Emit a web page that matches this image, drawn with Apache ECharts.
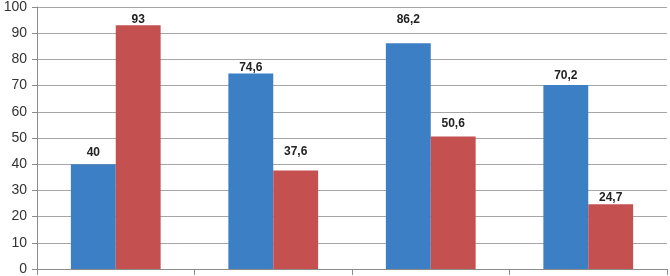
<!DOCTYPE html>
<html><head><meta charset="utf-8">
<script src="https://cdn.jsdelivr.net/npm/echarts@6/dist/echarts.min.js"></script>
<style>html,body{margin:0;padding:0;background:#fff}#c{width:670px;height:276px}</style>
</head><body><div id="c"></div>
<script>
var categories = ['1', '2', '3', '4'];
var seriesA = [40, 74.6, 86.2, 70.2];
var seriesB = [93, 37.6, 50.6, 24.7];
var yTicks = [0, 10, 20, 30, 40, 50, 60, 70, 80, 90, 100];

// label placement (style only): gap above each bar, in px
var labelGapA = [6, 0, 17, 3];
var labelGapB = [0, 13, 7, 1];

function items(vals, gaps) {
  return vals.map(function (v, i) { return { value: v, label: { distance: gaps[i] } }; });
}
var fmt = function (p) { return String(p.value).replace('.', ','); };
var lbl = { show: true, position: 'top', formatter: fmt,
  color: '#222', fontWeight: 'bold', fontSize: 12, fontFamily: 'Liberation Sans' };
var chart = echarts.init(document.getElementById('c'));
chart.setOption({
  animation: false,
  grid: { left: 37, right: 3, top: 5.5, bottom: 6, containLabel: false },
  xAxis: {
    type: 'category', data: categories,
    axisLine: { lineStyle: { color: '#8c8c8c', width: 1 } },
    axisTick: { show: true, length: 6, lineStyle: { color: '#8c8c8c' } },
    axisLabel: { show: false },
    splitLine: { show: false }
  },
  yAxis: {
    type: 'value', min: yTicks[0], max: yTicks[yTicks.length - 1], interval: 10,
    axisLine: { show: true, lineStyle: { color: '#8c8c8c' } },
    axisTick: { show: true, length: 5, lineStyle: { color: '#8c8c8c' } },
    axisLabel: { color: '#333', fontSize: 14, fontFamily: 'Liberation Sans', margin: 10 },
    splitLine: { lineStyle: { color: '#a6a6a6', width: 1 } }
  },
  series: [
    { type: 'bar', data: items(seriesA, labelGapA), barGap: '0%', barCategoryGap: '43%',
      itemStyle: { color: '#3c7fc5' }, label: lbl },
    { type: 'bar', data: items(seriesB, labelGapB), barGap: '0%', barCategoryGap: '43%',
      itemStyle: { color: '#c4504f' }, label: lbl }
  ]
});
</script></body></html>
